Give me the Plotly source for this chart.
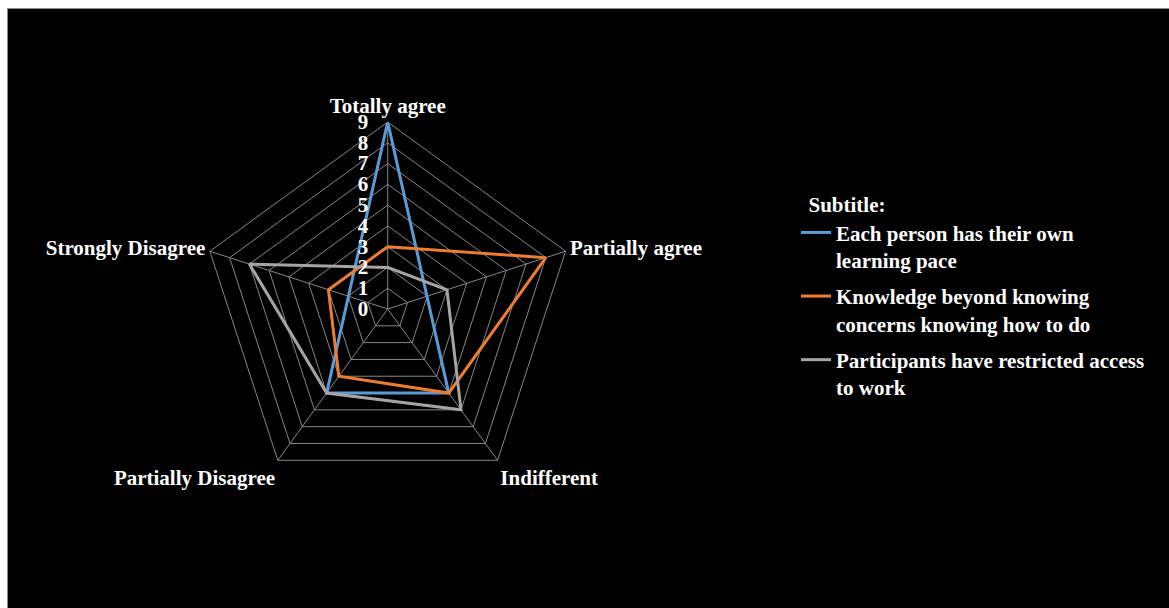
import plotly.graph_objects as go

categories = ["Totally agree", "Partially agree", "Indifferent", "Partially Disagree", "Strongly Disagree"]
series_names = [
    "Each person has their own<br>learning pace",
    "Knowledge beyond knowing<br>concerns knowing how to do",
    "Participants have restricted access<br>to work",
]
blue_values = [9, None, 5, 5, None]
orange_values = [3, 8, 5, 4, 3]
gray_values = [2, 3, 6, 5, 7]
colors = ["#5B9BD5", "#ED7D31", "#A5A5A5"]
radial_ticks = list(range(0, 10))

FONT = "Liberation Serif, Times New Roman, serif"

fig = go.Figure()
for i, (name, vals, col) in enumerate(zip(series_names, [blue_values, orange_values, gray_values], colors)):
    fig.add_trace(go.Scatterpolar(
        r=vals + [vals[0]],
        theta=categories + [categories[0]],
        mode="lines",
        name=name,
        legendgroup=f"g{i}",
        connectgaps=True,
        line=dict(color=col, width=3),
    ))

# figure frame: white page edge + black panel with grey border
fig.add_shape(type="rect", xref="paper", yref="paper",
              x0=7.5 / 1169, x1=1.02, y0=-0.02, y1=1 - 8.5 / 608,
              fillcolor="black", line=dict(color="#8c8c8c", width=1), layer="below")

fig.update_layout(
    width=1169, height=608,
    paper_bgcolor="white",
    plot_bgcolor="black",
    margin=dict(l=0, r=0, t=0, b=0),
    font=dict(family=FONT, size=21, color="white"),
    polar=dict(
        bgcolor="rgba(0,0,0,0)",
        gridshape="linear",
        domain=dict(x=[(387.7 - 187) / 1169, (387.7 + 187) / 1169],
                    y=[1 - 496 / 608, 1 - 122 / 608]),
        angularaxis=dict(
            rotation=90, direction="clockwise",
            showline=True, linecolor="#868686", linewidth=1,
            gridcolor="#868686", gridwidth=1,
            ticks="",
            tickfont=dict(family=FONT, size=21, color="white", weight="bold"),
        ),
        radialaxis=dict(
            range=[0, 9], tickvals=radial_ticks,
            ticktext=[str(v) + "\u00a0\u00a0\u00a0" for v in radial_ticks],
            angle=90, side="counterclockwise", tickangle=90,
            showline=False, gridcolor="#868686", gridwidth=1,
            ticks="",
            tickfont=dict(family=FONT, size=21, color="white", weight="bold"),
        ),
    ),
    legend=dict(
        x=796 / 1169, y=1 - 185 / 608, xanchor="left", yanchor="top",
        bgcolor="rgba(0,0,0,0)",
        font=dict(family=FONT, size=21, color="white", weight="bold"),
        title=dict(text="&nbsp;&nbsp;Subtitle:", font=dict(family=FONT, size=21, color="white", weight="bold")),
        valign="top",
        tracegroupgap=6,
    ),
    showlegend=True,
)

fig.write_html("out.html")
